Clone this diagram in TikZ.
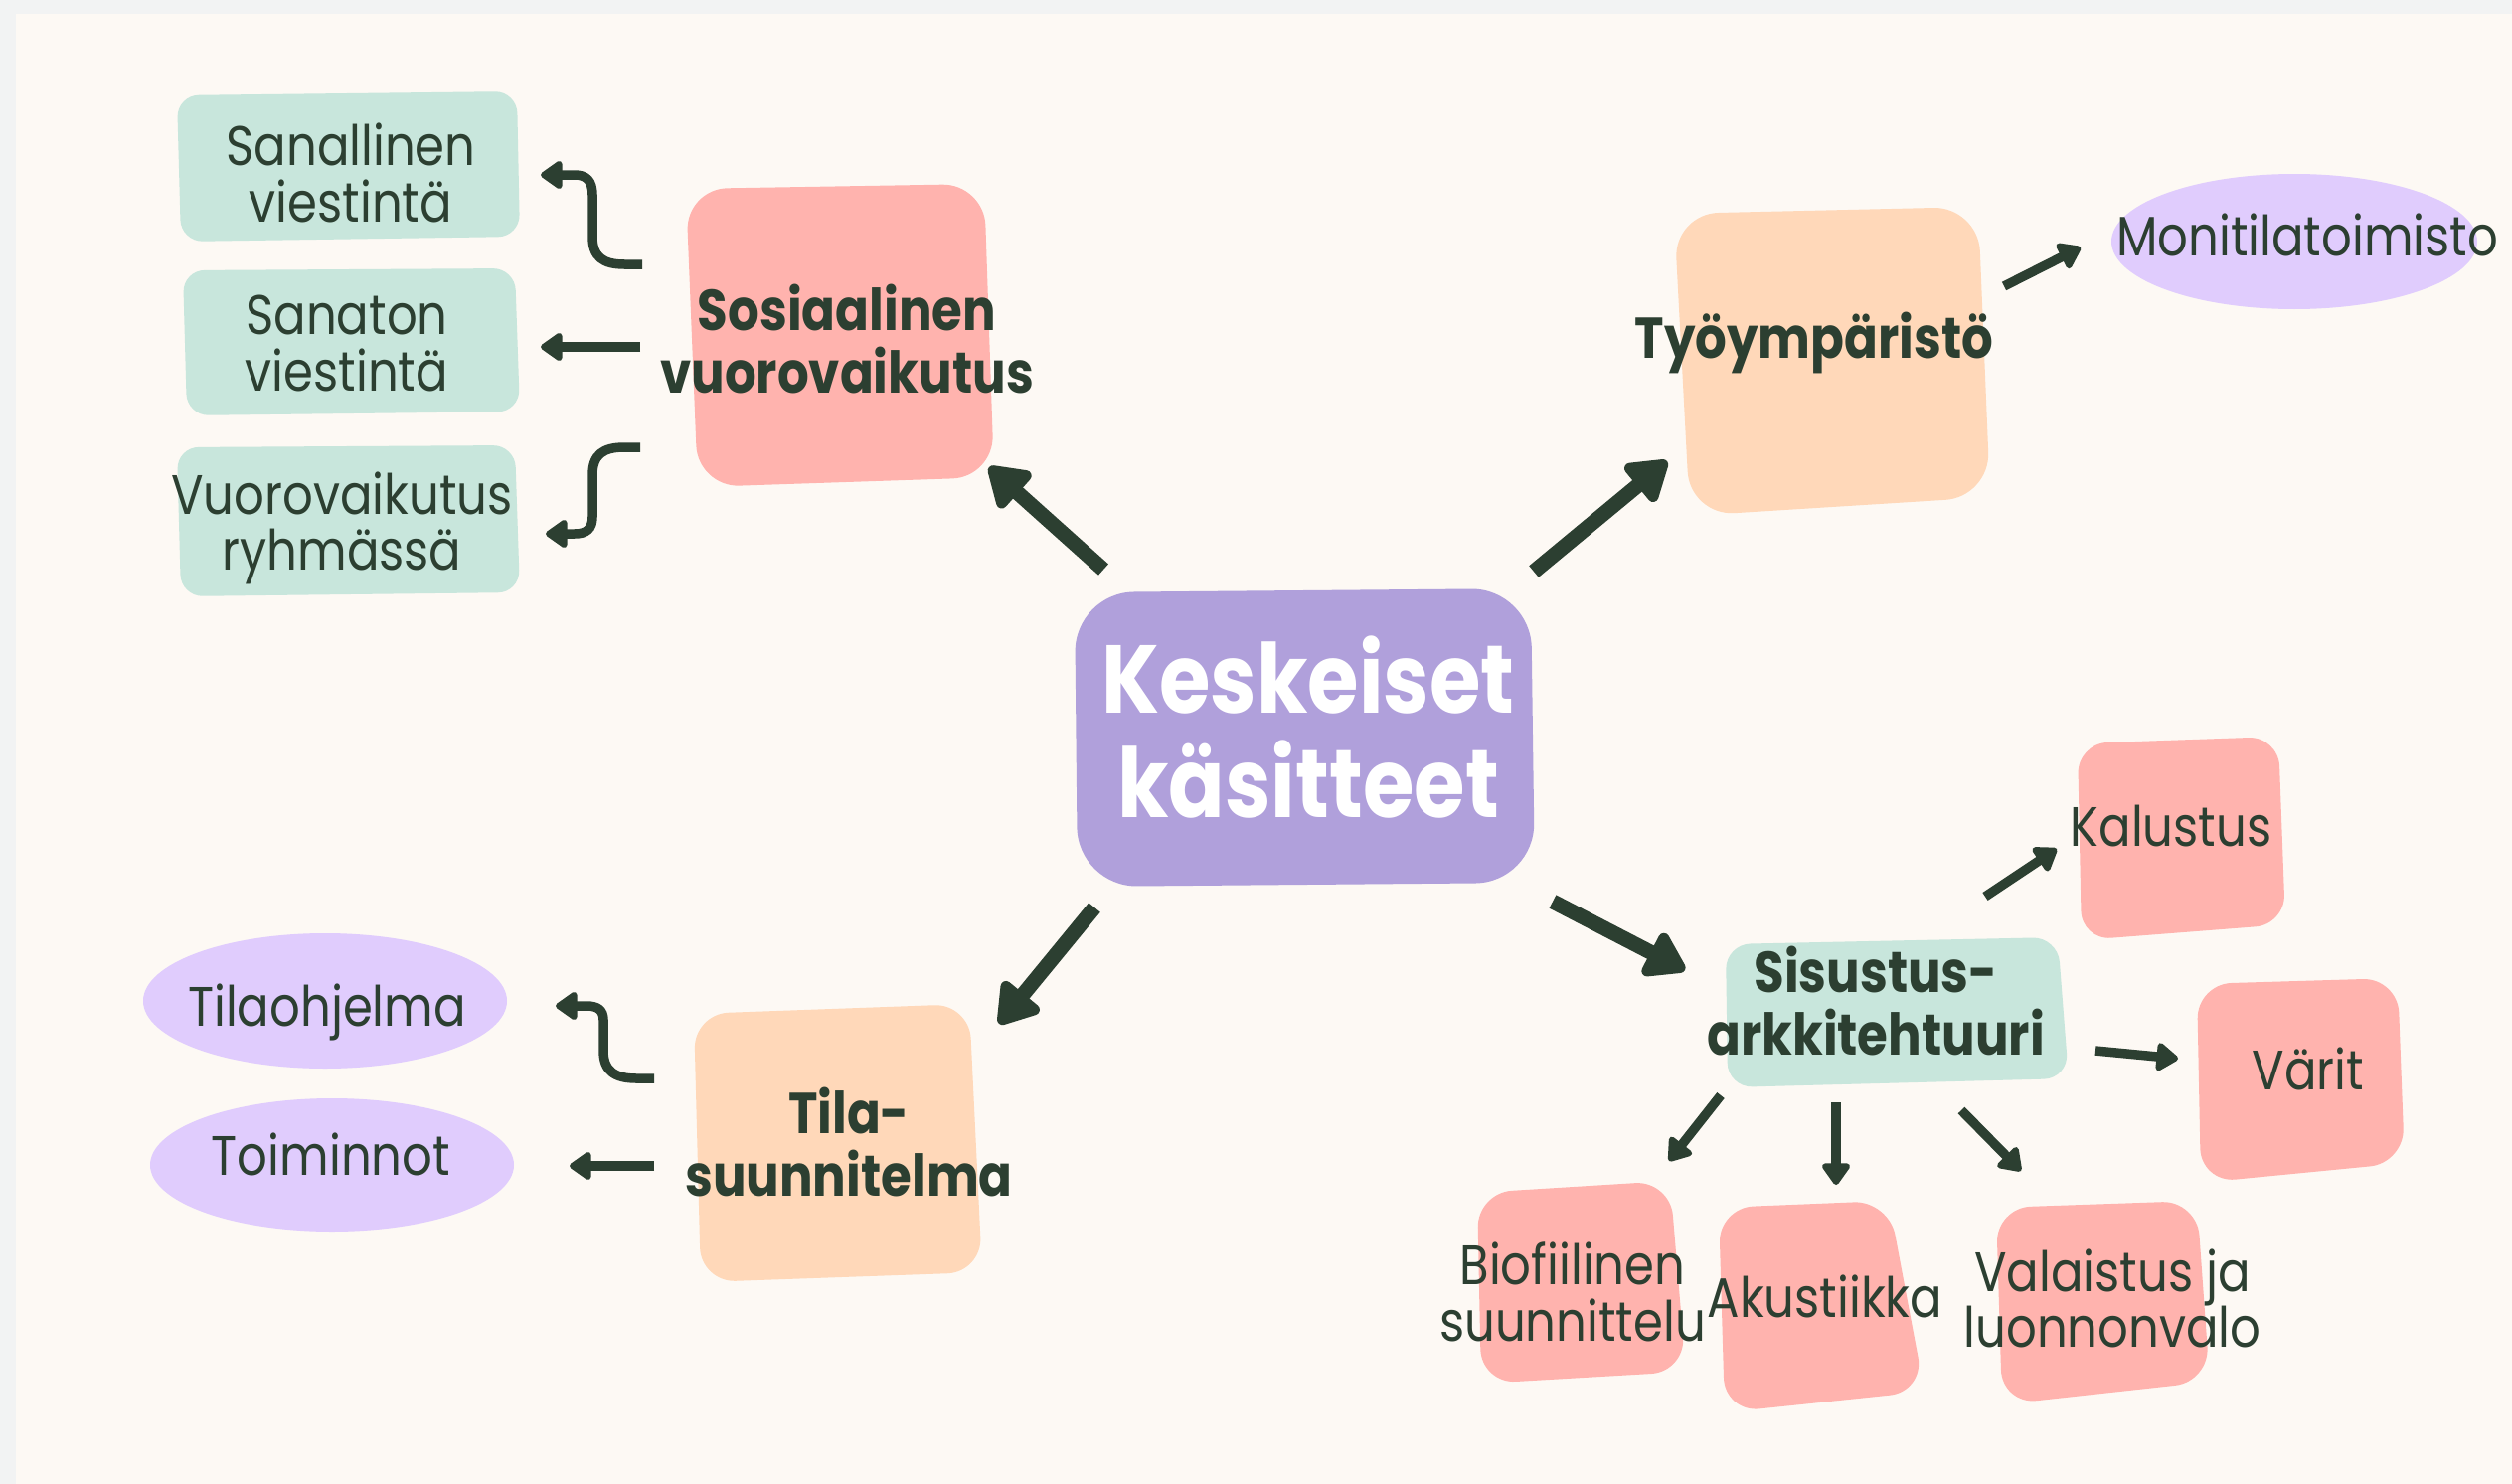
\documentclass[tikz,border=0pt]{standalone}
\usepackage{fontspec}
\setmainfont{Poppins}[FakeStretch=0.86]
\usetikzlibrary{arrows.meta}
\definecolor{bgcream}{HTML}{FDF9F4}
\definecolor{bggray}{HTML}{F2F3F3}
\definecolor{ink}{HTML}{2C3F31}
\definecolor{pinkc}{HTML}{FFB3AE}
\definecolor{peachc}{HTML}{FFD8B9}
\definecolor{mintc}{HTML}{C8E6DC}
\definecolor{lavc}{HTML}{E0CCFD}
\definecolor{purpc}{HTML}{B0A0DB}
\newcommand{\mytl}[2]{\begin{tabular}[t]{@{}c@{}}#1\\#2\end{tabular}}
\begin{document}
\begin{tikzpicture}[x=1pt,y=-1pt,
  lbl/.style={text=ink, inner sep=0pt, anchor=base, font=\fontsize{56}{50}\selectfont},
  hdr/.style={text=ink, inner sep=0pt, anchor=base, font=\bfseries\fontsize{58}{56}\selectfont},
  ctrtext/.style={text=white, inner sep=0pt, anchor=base, font=\bfseries\fontsize{97}{92}\selectfont},
  bigarrow/.style={draw=ink, line width=15pt, -{Triangle[length=44pt,width=54pt,round]}},
  smallarrow/.style={draw=ink, line width=9.5pt, -{Triangle[length=24pt,width=32pt,round]}},
  blob/.style={rounded corners=#1},
]
\useasboundingbox (0,0) rectangle (2527,1493);
\fill[bggray] (0,0) rectangle (2527,1493);
\fill[bgcream] (16,14) rectangle (2527,1493);

% blobs
\fill[mintc, blob=22pt] (178,96) -- (520,92) -- (523,238) -- (182,243) -- cycle;
\fill[mintc, blob=22pt] (184,272) -- (518,270) -- (523,414) -- (188,418) -- cycle;
\fill[mintc, blob=22pt] (178,450) -- (518,448) -- (523,596) -- (182,600) -- cycle;
\fill[pinkc, blob=42pt] (690,190) -- (990,185) -- (1000,480) -- (702,490) -- cycle;
\fill[purpc, blob=60pt] (1081,596) -- (1540,592) -- (1544,888) -- (1084,892) -- cycle;
\fill[peachc, blob=45pt] (1684,215) -- (1990,208) -- (2002,500) -- (1700,519) -- cycle;
\fill[lavc] (2308,243) ellipse [x radius=184, y radius=68];
\fill[peachc, blob=35pt] (698,1020) -- (975,1010) -- (988,1280) -- (705,1290) -- cycle;
\fill[lavc] (327,1007) ellipse [x radius=183, y radius=68];
\fill[lavc] (334,1172) ellipse [x radius=183, y radius=67];
\fill[mintc, blob=25pt] (1736,950) -- (2070,943) -- (2081,1085) -- (1738,1094) -- cycle;
\fill[pinkc, blob=30pt] (2090,748) -- (2292,741) -- (2299,930) -- (2094,946) -- cycle;
\fill[pinkc, blob=35pt] (2210,990) -- (2412,984) -- (2419,1170) -- (2214,1190) -- cycle;
\fill[pinkc, blob=35pt] (1486,1200) -- (1680,1188) -- (1696,1380) -- (1490,1392) -- cycle;
\fill[pinkc, blob=35pt] (1729,1215) -- (1900,1208) -- (1936,1400) -- (1735,1421) -- cycle;
\fill[pinkc, blob=35pt] (2008,1215) -- (2210,1208) -- (2223,1390) -- (2014,1413) -- cycle;

% texts
\node[lbl] (sanal) at (353,166) {\mytl{Sanallinen}{viestintä}};
\node[lbl] (sanat) at (349,336) {\mytl{Sanaton}{viestintä}};
\node[lbl] (ryhma) at (344,517) {\mytl{Vuorovaikutus}{ryhmässä}};
\node[hdr] (sos) at (852,332) {\mytl{Sosiaalinen}{vuorovaikutus}};
\node[ctrtext] (ctr) at (1316,717) {\mytl{Keskeiset}{käsitteet}};
\node[hdr] (tyo) at (1825,360) {Työympäristö};
\node[lbl] (moni) at (2321,257) {Monitilatoimisto};
\node[hdr] (tila) at (854,1140) {\mytl{Tila-}{suunnitelma}};
\node[lbl] (tilaoh) at (329,1032) {Tilaohjelma};
\node[lbl] (toim) at (333,1182) {Toiminnot};
\node[hdr] (sis) at (1887,998) {\mytl{Sisustus-}{arkkitehtuuri}};
\node[lbl] (kal) at (2184,851) {Kalustus};
\node[lbl] (var) at (2322,1096) {Värit};
\node[lbl] (bio) at (1582,1292) {\mytl{Biofiilinen}{suunnittelu}};
\node[lbl] (aku) at (1836,1325) {Akustiikka};
\node[lbl] (val) at (2125,1299) {\mytl{Valaistus ja}{luonnonvalo}};

% connector ends
\coordinate (c2sosA) at (1110,573); \coordinate (c2sosB) at (995,470);
\coordinate (c2tyoA) at (1543,575); \coordinate (c2tyoB) at (1677,464);
\coordinate (c2tilaA) at (1101,913); \coordinate (c2tilaB) at (1005,1030);
\coordinate (c2sisA) at (1562,907); \coordinate (c2sisB) at (1695,976);
\coordinate (tyo2moA) at (2016,288); \coordinate (tyo2moB) at (2093,249);
\coordinate (sos2saA) at (646,266); \coordinate (sos2saB) at (544,176);
\coordinate (sos2snA) at (644,349); \coordinate (sos2snB) at (544,349);
\coordinate (sos2ryA) at (644,450); \coordinate (sos2ryB) at (549,537);
\coordinate (til2ohA) at (658,1085); \coordinate (til2ohB) at (559,1012);
\coordinate (til2toA) at (658,1173); \coordinate (til2toB) at (573,1173);
\coordinate (sis2kaA) at (1997,902); \coordinate (sis2kaB) at (2069,854);
\coordinate (sis2vaA) at (2108,1057); \coordinate (sis2vaB) at (2191,1065);
\coordinate (sis2biA) at (1731,1102); \coordinate (sis2biB) at (1679,1168);
\coordinate (sis2akA) at (1847,1109); \coordinate (sis2akB) at (1847,1192);
\coordinate (sis2vlA) at (1973,1117); \coordinate (sis2vlB) at (2033,1178);

% connectors
\draw[bigarrow] (c2sosA) -- (c2sosB);
\draw[bigarrow] (c2tyoA) -- (c2tyoB);
\draw[bigarrow] (c2tilaA) -- (c2tilaB);
\draw[bigarrow] (c2sisA) -- (c2sisB);
\draw[smallarrow] (tyo2moA) -- (tyo2moB);
\draw[smallarrow] (sos2saA) -- (628,266) .. controls (606,266) and (596,258) .. (596,238) -- (596,196) .. controls (596,182) and (590,176) .. (578,176) -- (sos2saB);
\draw[smallarrow] (sos2snA) -- (sos2snB);
\draw[smallarrow] (sos2ryA) -- (628,450) .. controls (606,450) and (596,458) .. (596,478) -- (596,520) .. controls (596,532) and (590,537) .. (578,537) -- (sos2ryB);
\draw[smallarrow] (til2ohA) -- (640,1085) .. controls (618,1085) and (607,1077) .. (607,1057) -- (607,1026) .. controls (607,1016) and (601,1012) .. (590,1012) -- (til2ohB);
\draw[smallarrow] (til2toA) -- (til2toB);
\draw[smallarrow] (sis2kaA) -- (sis2kaB);
\draw[smallarrow] (sis2vaA) -- (sis2vaB);
\draw[smallarrow] (sis2biA) -- (sis2biB);
\draw[smallarrow] (sis2akA) -- (sis2akB);
\draw[smallarrow] (sis2vlA) -- (sis2vlB);
\end{tikzpicture}
\end{document}
